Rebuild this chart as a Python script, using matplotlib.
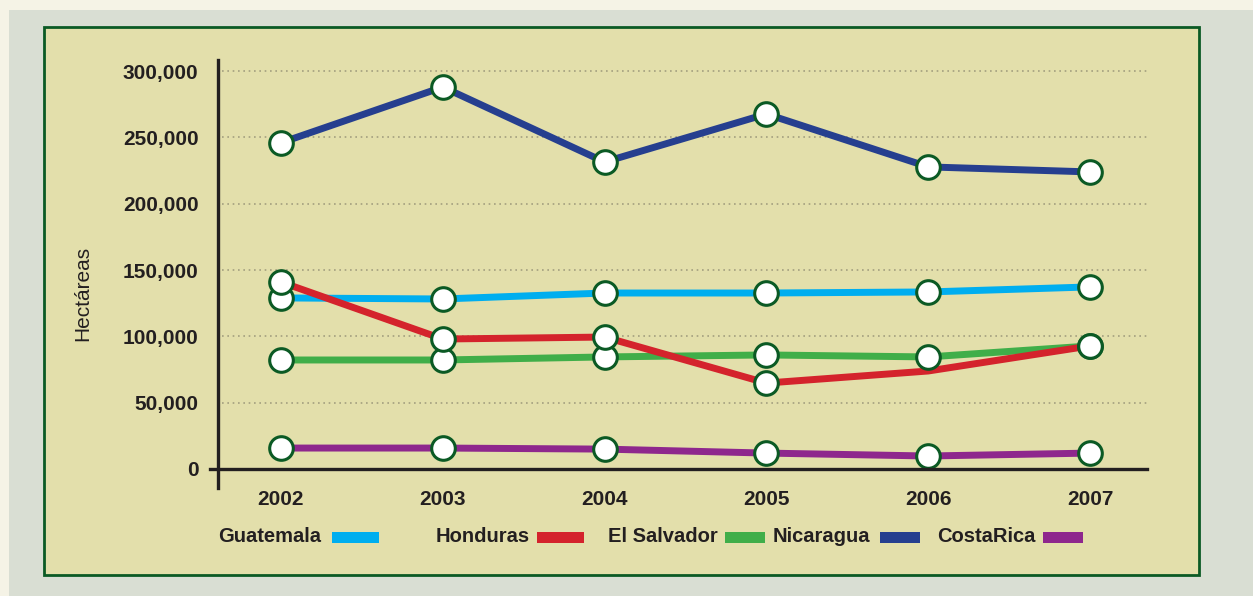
import numpy as np
from matplotlib import pyplot as plt
from matplotlib.patches import Rectangle
from matplotlib.ticker import FuncFormatter

years = ["2002", "2003", "2004", "2005", "2006", "2007"]
countries = ["Guatemala", "Honduras", "El Salvador", "Nicaragua", "CostaRica"]
guatemala = [129000, 128200, 132700, 132700, 133500, 137300]
honduras = [141000, 98000, 99500, 64800, 73900, 92800]
el_salvador = [82200, 82200, 84500, 86000, 84500, 92800]
nicaragua = [246000, 288000, 231500, 267700, 227800, 224000]
costa_rica = [15800, 15800, 15000, 12000, 9800, 12000]
# Honduras has no marker for 2006 in the original
honduras_markers = [0, 1, 2, 3, 5]

series = [guatemala, honduras, el_salvador, nicaragua, costa_rica]
marker_idx = [range(6), honduras_markers, range(6), range(6), range(6)]
colors = ["#00aeef", "#d4232c", "#40ae49", "#263f8f", "#8e278d"]
draw_order = [3, 0, 2, 1, 4]

plt.rcParams['font.family'] = ['Liberation Sans', 'DejaVu Sans']
fig = plt.figure(figsize=(12.53, 5.96), dpi=100)
fig.patch.set_facecolor("#f5f3e6")
fig.add_artist(Rectangle((9 / 1253, 0), 1, 586 / 596, transform=fig.transFigure,
                         facecolor="#d9ded3", edgecolor="none", zorder=-3))
fig.add_artist(Rectangle((44 / 1253, 21 / 596), 1155 / 1253, 548 / 596, transform=fig.transFigure,
                         facecolor="#e3dfab", edgecolor="#0b5a24", linewidth=2, zorder=-2))

ax = fig.add_axes([218 / 1253, 127 / 596, 929 / 1253, 409 / 596])
ax.set_facecolor("none")
x = np.arange(len(years))

for i in draw_order:
    ax.plot(x, series[i], color=colors[i], linewidth=5, solid_capstyle="butt", zorder=2)
for i in draw_order:
    idx = list(marker_idx[i])
    ax.plot(x[idx], np.array(series[i])[idx], linestyle="none", marker="o", markersize=17,
            markerfacecolor="white", markeredgecolor="#0b5a24", markeredgewidth=2.2, zorder=3)

ax.set_xlim(-0.389, 5.352)
ax.set_ylim(0, 308400)
ax.set_yticks(np.arange(0, 300001, 50000))
ax.yaxis.set_major_formatter(FuncFormatter(lambda v, p: f"{int(v):,}"))
ax.set_xticks(x)
ax.set_xticklabels(years)
ax.tick_params(axis="y", length=0, pad=14, labelsize=15, labelcolor="#231f20")
ax.tick_params(axis="x", length=0, pad=15, labelsize=15, labelcolor="#231f20")
for lab in ax.get_xticklabels() + ax.get_yticklabels():
    lab.set_fontweight("bold")

for v in range(50000, 300001, 50000):
    ax.plot([0.004, 1], [v, v], transform=ax.get_yaxis_transform(), color="#a39f7f",
            linewidth=1.2, linestyle=(0, (1, 2.2)), zorder=1)

for s in ax.spines.values():
    s.set_visible(False)
ax.plot([0, 0], [-0.046, 1], transform=ax.transAxes, color="#231f20", linewidth=2.4,
        clip_on=False, zorder=4)
ax.plot([-0.009, 1], [0, 0], transform=ax.transAxes, color="#231f20", linewidth=2.4,
        clip_on=False, zorder=4)

ax.set_ylabel("Hectáreas", fontsize=15, color="#231f20", labelpad=0)
ax.yaxis.set_label_coords(-126 / 929, 0.43)

# legend: name then colour bar, laid out like the original
text_right = [321, 530, 718, 870, 1036]
bar_left = [332, 537, 725, 880, 1043]
bar_width = [47, 47, 40, 40, 40]
for name, col, tr, bl, bw in zip(countries, colors, text_right, bar_left, bar_width):
    fig.text(tr / 1253, 1 - 537 / 596, name, ha="right", va="center", fontsize=14.5,
             fontweight="bold", color="#231f20")
    fig.add_artist(Rectangle((bl / 1253, 1 - 543 / 596), bw / 1253, 11 / 596,
                             transform=fig.transFigure, facecolor=col, edgecolor="none"))

fig.savefig("out.png", dpi=100, facecolor=fig.get_facecolor())
